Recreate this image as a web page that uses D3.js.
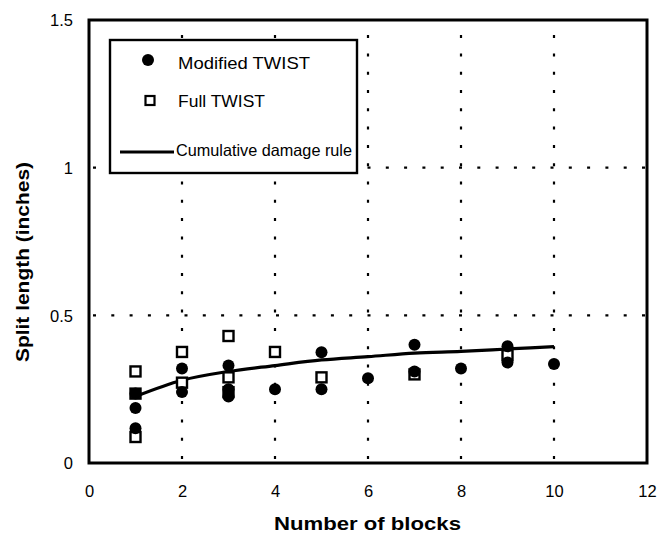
<!DOCTYPE html>
<html><head><meta charset="utf-8">
<script src="https://cdn.jsdelivr.net/npm/d3@7"></script>
<style>
html,body{margin:0;padding:0;background:#fff;}
svg{display:block;font-family:"Liberation Sans",Arial,sans-serif;}
</style></head>
<body>
<svg id="chart" width="657" height="542"></svg>
<script>
// ---- data ----
const modX = [1, 1, 1, 2, 2, 3, 3, 3, 4, 5, 5, 6, 7, 7, 8, 9, 9, 10];
const modY = [0.118, 0.186, 0.235, 0.32, 0.24, 0.33, 0.25, 0.225, 0.25, 0.375, 0.25, 0.287, 0.40, 0.31, 0.32, 0.395, 0.34, 0.335];
const fullX = [1, 1, 1, 2, 2, 3, 3, 3, 4, 5, 7, 9];
const fullY = [0.31, 0.088, 0.235, 0.376, 0.272, 0.43, 0.29, 0.24, 0.376, 0.29, 0.30, 0.365];
const lineX = [1, 2, 3, 4, 5, 6, 7, 8, 9, 10];
const lineY = [0.225, 0.28, 0.31, 0.33, 0.349, 0.36, 0.372, 0.378, 0.386, 0.394];
const xTicks = [0, 2, 4, 6, 8, 10, 12];
const yTicks = [0, 0.5, 1, 1.5];
const yTickLabels = ["0", "0.5", "1", "1.5"];
const gridX = [2, 4, 6, 8, 10];
const gridY = [0.5, 1];
const legendLabels = ["Modified TWIST", "Full TWIST", "Cumulative damage rule"];

// ---- layout ----
const svg = d3.select("#chart");
const L = 89, R = 647, T = 20, B = 463;
const x = d3.scaleLinear().domain([0, 12]).range([L, R]);
const y = d3.scaleLinear().domain([0, 1.5]).range([B, T]);

// gridlines
const g = svg.append("g");
g.selectAll("line.gx").data(gridX).enter().append("line")
  .attr("x1", d => x(d)).attr("x2", d => x(d))
  .attr("y1", B - 4).attr("y2", T + 2)
  .attr("stroke", "#000").attr("stroke-width", 2.2)
  .attr("stroke-dasharray", "3,15.3");
g.selectAll("line.gy").data(gridY).enter().append("line")
  .attr("y1", d => y(d)).attr("y2", d => y(d))
  .attr("x1", L + 4).attr("x2", R - 2)
  .attr("stroke", "#000").attr("stroke-width", 2.2)
  .attr("stroke-dasharray", "3,15.3");

// axes (labels only, via d3 axes)
const xAxis = d3.axisBottom(x).tickValues(xTicks).tickSize(0).tickPadding(0).tickFormat(d3.format("d"));
const xa = svg.append("g").attr("transform", `translate(0,${B + 22})`).call(xAxis);
xa.select(".domain").remove();
xa.selectAll("text").attr("font-size", 16.5).attr("font-family", "Liberation Sans, Arial, sans-serif").attr("fill", "#000").attr("dy", "0.71em");

const yAxis = d3.axisLeft(y).tickValues(yTicks).tickSize(0).tickPadding(0).tickFormat((d, i) => yTickLabels[i]);
const ya = svg.append("g").attr("transform", `translate(${L - 16},0)`).call(yAxis);
ya.select(".domain").remove();
ya.selectAll("text").attr("font-size", 16.5).attr("font-family", "Liberation Sans, Arial, sans-serif").attr("fill", "#000").attr("dy", "0.35em");

// data: line
const line = d3.line().x(d => x(d[0])).y(d => y(d[1])).curve(d3.curveMonotoneX);
svg.append("path").datum(lineX.map((d, i) => [d, lineY[i]]))
  .attr("d", line).attr("fill", "none").attr("stroke", "#000").attr("stroke-width", 3.2);

// squares
const sq = 10;
svg.selectAll("rect.full").data(fullX.map((d, i) => [d, fullY[i]])).enter().append("rect")
  .attr("x", d => x(d[0]) - sq / 2).attr("y", d => y(d[1]) - sq / 2)
  .attr("width", sq).attr("height", sq)
  .attr("fill", "#fff").attr("stroke", "#000").attr("stroke-width", 2.4);

// circles
svg.selectAll("circle.mod").data(modX.map((d, i) => [d, modY[i]])).enter().append("circle")
  .attr("cx", d => x(d[0])).attr("cy", d => y(d[1])).attr("r", 6)
  .attr("fill", "#000");

// frame
svg.append("rect").attr("x", L).attr("y", T).attr("width", R - L).attr("height", B - T)
  .attr("fill", "none").attr("stroke", "#000").attr("stroke-width", 3);

// legend
const lg = svg.append("g");
lg.append("rect").attr("x", 110).attr("y", 40).attr("width", 247).attr("height", 133)
  .attr("fill", "#fff").attr("stroke", "#000").attr("stroke-width", 2.4);
lg.append("circle").attr("cx", 148).attr("cy", 60).attr("r", 6).attr("fill", "#000");
lg.append("rect").attr("x", 145.5).attr("y", 96).attr("width", 9).attr("height", 9)
  .attr("fill", "#fff").attr("stroke", "#000").attr("stroke-width", 2.2);
lg.append("line").attr("x1", 120).attr("x2", 174).attr("y1", 152).attr("y2", 152)
  .attr("stroke", "#000").attr("stroke-width", 3.2);
const ly = [63, 101, 150];
const lx = [178, 178, 176];
const lw = [132, 87, 176];
lg.selectAll("text").data(legendLabels).enter().append("text")
  .attr("x", (d, i) => lx[i]).attr("y", (d, i) => ly[i]).attr("dy", "0.35em")
  .attr("font-size", 16.5).attr("fill", "#000")
  .attr("textLength", (d, i) => lw[i]).attr("lengthAdjust", "spacingAndGlyphs")
  .text(d => d);

// axis titles
svg.append("text").attr("x", 274).attr("y", 523).attr("dy", "0.35em")
  .attr("font-weight", "bold").attr("font-size", 19)
  .attr("textLength", 187).attr("lengthAdjust", "spacingAndGlyphs")
  .text("Number of blocks");
svg.append("text").attr("transform", "translate(22,362) rotate(-90)").attr("dy", "0.35em")
  .attr("font-weight", "bold").attr("font-size", 19)
  .attr("textLength", 200).attr("lengthAdjust", "spacingAndGlyphs")
  .text("Split length (inches)");
</script>
</body></html>
